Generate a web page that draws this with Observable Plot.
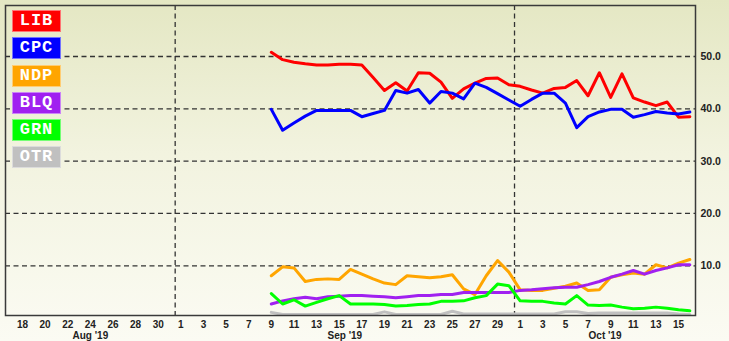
<!DOCTYPE html>
<html>
<head>
<meta charset="utf-8">
<script src="https://cdn.jsdelivr.net/npm/d3@7"></script>
<script src="https://cdn.jsdelivr.net/npm/@observablehq/plot@0.6"></script>
<style>
  html, body { margin: 0; padding: 0; }
  body { width: 729px; height: 341px; overflow: hidden;
         background: linear-gradient(to bottom, #e4e7c3 0%, #f2f3df 45%, #fbfbf3 100%); }
  #wrap { position: relative; width: 729px; height: 341px; }
  #legend { position: absolute; left: 12px; top: 10px; }
  .lg { width: 47px; height: 20px; margin-bottom: 5.3px; border: 1px solid rgba(255,255,255,0.45);
        color: #fff; font: bold 17px "Liberation Mono", "Courier New", monospace; letter-spacing: 1px;
        text-align: center; line-height: 20px; }
</style>
</head>
<body>
<div id="wrap"><div id="chart"></div><div id="legend"></div></div>
<script>
const parties = ["LIB", "CPC", "NDP", "BLQ", "GRN", "OTR"];
const colors  = ["#ff0000", "#0000ff", "#ffa500", "#a020f0", "#00ff00", "#c0c0c0"];

const days = [
  "2019-09-09","2019-09-10","2019-09-11","2019-09-12","2019-09-13","2019-09-14","2019-09-15",
  "2019-09-16","2019-09-17","2019-09-18","2019-09-19","2019-09-20","2019-09-21","2019-09-22",
  "2019-09-23","2019-09-24","2019-09-25","2019-09-26","2019-09-27","2019-09-28","2019-09-29",
  "2019-09-30","2019-10-01","2019-10-02","2019-10-03","2019-10-04","2019-10-05","2019-10-06",
  "2019-10-07","2019-10-08","2019-10-09","2019-10-10","2019-10-11","2019-10-12","2019-10-13",
  "2019-10-14","2019-10-15","2019-10-16"
];

const LIB = [50.8,49.4,48.9,48.6,48.4,48.4,48.5,48.5,48.4,46.0,43.5,45.0,43.4,46.9,
             46.8,45.1,42.0,43.8,44.9,45.8,45.9,44.6,44.3,43.6,43.0,43.9,44.1,45.4,
             42.5,46.9,42.2,46.7,42.1,41.3,40.6,41.3,38.4,38.5];
const CPC = [39.9,35.9,37.3,38.6,39.7,39.7,39.7,39.7,38.5,39.1,39.7,43.5,43.0,43.7,
             41.1,43.3,43.0,41.9,44.9,44.1,42.9,41.7,40.5,41.8,43.0,43.0,41.1,36.4,
             38.5,39.4,39.9,39.9,38.4,38.9,39.5,39.2,39.0,39.4];
const NDP = [8.1,9.8,9.6,7.0,7.4,7.5,7.4,9.3,8.4,7.5,6.7,6.4,8.1,7.9,
             7.7,7.9,8.3,5.6,4.5,8.1,11.0,8.8,5.4,5.3,5.3,5.7,6.1,6.7,
             5.3,5.4,7.8,8.3,8.6,8.4,10.2,9.6,10.5,11.2];
const BLQ = [2.7,3.3,3.7,4.0,3.7,4.1,4.2,4.3,4.3,4.2,4.1,3.9,4.1,4.3,
             4.3,4.5,4.5,4.9,4.9,4.9,4.9,4.9,5.3,5.4,5.6,5.8,5.9,5.9,
             6.4,7.0,7.8,8.4,9.1,8.4,9.1,9.6,10.2,10.2];
const GRN = [4.7,2.7,3.5,2.3,3.0,3.7,4.3,2.7,2.7,2.7,2.6,2.3,2.4,2.6,
             2.7,3.2,3.2,3.3,3.9,4.3,6.5,6.2,3.3,3.2,3.2,2.9,2.7,4.3,
             2.5,2.4,2.5,2.1,1.8,1.9,2.1,1.9,1.6,1.4];
const OTR = [1.1,0.7,0.7,0.7,0.7,0.7,0.7,0.7,0.7,0.7,1.2,0.7,0.7,0.7,
             0.7,0.7,1.3,0.8,0.8,0.8,0.8,0.8,0.8,0.8,0.8,0.8,1.2,1.2,
             0.9,1.0,1.0,1.0,1.0,1.0,1.0,1.0,0.8,0.7];

const xTickDays = [
  "2019-08-18","2019-08-20","2019-08-22","2019-08-24","2019-08-26","2019-08-28","2019-08-30",
  "2019-09-01","2019-09-03","2019-09-05","2019-09-07","2019-09-09","2019-09-11","2019-09-13",
  "2019-09-15","2019-09-17","2019-09-19","2019-09-21","2019-09-23","2019-09-25","2019-09-27",
  "2019-09-29","2019-10-01","2019-10-03","2019-10-05","2019-10-07","2019-10-09","2019-10-11",
  "2019-10-13","2019-10-15"
];
const monthLabels = ["Aug '19", "Sep '19", "Oct '19"];
const monthStarts = ["2019-08-01", "2019-09-01", "2019-10-01", "2019-11-01"];
const yTicks = [10, 20, 30, 40, 50];

const noon = s => new Date(s + "T12:00:00Z");
const midnight = s => new Date(s + "T00:00:00Z");
const x0 = midnight("2019-08-17"), x1 = midnight("2019-10-17");

const series = [LIB, CPC, NDP, BLQ, GRN, OTR];
const rows = [];
parties.forEach((p, i) => series[i].forEach((v, j) => rows.push({party: p, date: noon(days[j]), value: v})));

const months = monthLabels.map((label, i) => {
  const a = Math.max(+midnight(monthStarts[i]), +x0);
  const b = Math.min(+midnight(monthStarts[i + 1]), +x1);
  return {label, mid: new Date((a + b) / 2)};
});
const gridX = monthStarts.map(midnight).filter(d => d > x0 && d < x1);

const dash = {stroke: "#333", strokeWidth: 1.3, strokeDasharray: "5,3.5"};

const lineMarks = parties.map((p, i) =>
  Plot.line(rows.filter(r => r.party === p), {
    x: "date", y: "value", stroke: colors[i], strokeWidth: 3, strokeLinejoin: "round", clip: true
  })
);

const chart = Plot.plot({
  width: 729, height: 341,
  marginLeft: 5, marginRight: 34, marginTop: 5, marginBottom: 26,
  style: {background: "transparent", fontFamily: "'Liberation Sans', Arial, sans-serif",
          fontSize: "10px", fontWeight: "bold", color: "#222", overflow: "visible"},
  x: {type: "utc", domain: [x0, x1], label: null},
  y: {domain: [0.5, 59.75], label: null},
  marks: [
    Plot.ruleY(yTicks, dash),
    Plot.ruleX(gridX, dash),
    ...lineMarks,
    Plot.axisX(xTickDays.map(noon), {tickSize: 0, tickPadding: 5, tickFormat: d => d.getUTCDate(),
                                     fontWeight: "bold", fill: "#222", label: null}),
    Plot.text(months, {x: "mid", text: "label", frameAnchor: "bottom", lineAnchor: "middle", dy: 20.5,
                       fontWeight: "bold", fill: "#222"}),
    Plot.axisY(yTicks, {anchor: "right", tickSize: 0, tickPadding: 5, tickFormat: d3.format(".1f"),
                        fontWeight: "bold", fill: "#222", label: null, fontSize: 10.5}),
    Plot.frame({stroke: "#3a3a3a", strokeWidth: 1.5})
  ]
});
document.getElementById("chart").appendChild(chart);

const legend = document.getElementById("legend");
parties.forEach((p, i) => {
  const d = document.createElement("div");
  d.className = "lg";
  d.style.background = colors[i];
  d.textContent = p;
  legend.appendChild(d);
});
</script>
</body>
</html>
